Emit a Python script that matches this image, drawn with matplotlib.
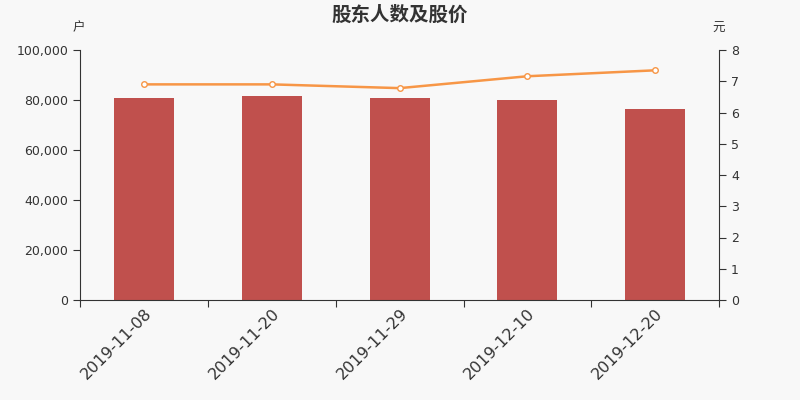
import matplotlib
matplotlib.use("Agg")
import matplotlib.pyplot as plt
import numpy as np

dates = ["2019-11-08", "2019-11-20", "2019-11-29", "2019-12-10", "2019-12-20"]
holders = [81000, 81600, 80700, 80000, 76400]
prices = [6.90, 6.90, 6.78, 7.16, 7.35]

bar_color = "#c0504d"
line_color = "#f79646"
bg = "#f8f8f8"
text_color = "#333333"
cjk = ["Noto Sans CJK SC", "DejaVu Sans"]

fig = plt.figure(figsize=(8, 4), dpi=100, facecolor=bg)
ax = fig.add_axes([0.1, 0.25, 0.799, 0.625], facecolor=bg)
x = np.arange(len(dates))
ax.bar(x, holders, width=0.47, color=bar_color, zorder=2)
ax.set_xlim(-0.5, len(dates) - 0.5)
ax.set_ylim(0, 100000)
ax.set_yticks(np.arange(0, 100001, 20000))
ax.set_yticklabels([f"{v:,}" for v in range(0, 100001, 20000)], fontsize=9, color=text_color)
ax.set_xticks(np.arange(-0.5, len(dates), 1.0))
ax.set_xticklabels([])
ax.set_xticks(x, minor=True)
ax.set_xticklabels(dates, minor=True, rotation=45, ha="right", rotation_mode="anchor",
                   fontsize=11.5, color=text_color)
ax.tick_params(axis="x", which="minor", length=0, pad=4)
ax.tick_params(axis="x", which="major", length=5, color=text_color)
ax.tick_params(axis="y", length=5, color=text_color)
for s in ["top", "right"]:
    ax.spines[s].set_visible(False)
for s in ["left", "bottom"]:
    ax.spines[s].set_color(text_color)

ax2 = ax.twinx()
ax2.plot(x, prices, color=line_color, linewidth=1.8, marker="o", markersize=4,
         markerfacecolor="white", markeredgecolor=line_color, markeredgewidth=1, zorder=3)
ax2.set_ylim(0, 8)
ax2.set_yticks(np.arange(0, 9, 1))
ax2.set_yticklabels([str(v) for v in range(9)], fontsize=9, color=text_color)
ax2.tick_params(axis="y", length=5, color=text_color)
for s in ["top", "left", "bottom"]:
    ax2.spines[s].set_visible(False)
ax2.spines["right"].set_color(text_color)

fig.text(0.5, 0.963, "股东人数及股价", ha="center", va="center", fontsize=14,
         fontweight="bold", color=text_color, family=cjk)
fig.text(0.098, 0.93, "户", ha="center", va="center", fontsize=9, color=text_color, family=cjk)
fig.text(0.898, 0.93, "元", ha="center", va="center", fontsize=9, color=text_color, family=cjk)

fig.savefig("out.png", dpi=100, facecolor=bg)
